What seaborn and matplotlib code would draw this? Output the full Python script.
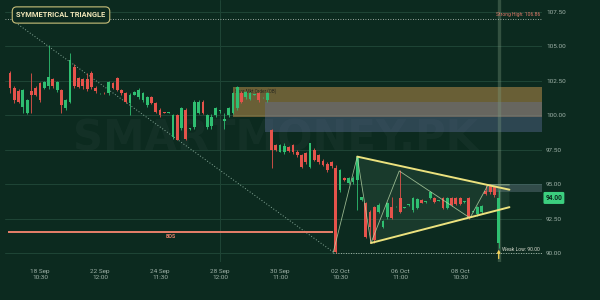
import numpy as np
import pandas as pd
import matplotlib
matplotlib.use("Agg")
import matplotlib.pyplot as plt
import seaborn as sns
from matplotlib.patches import Rectangle, Polygon

# ---------------- data ----------------
opens = [103.1, 102.0, 101.8, 100.6, 100.2, 101.8, 102.0, 102.35, 102.0, 102.1,
         102.6, 101.85, 101.85, 100.5, 101.0, 103.5, 102.7, 102.6, 102.6, 103.1,
         102.0, 101.6, 101.62, 101.6, 102.35, 102.7, 101.85, 101.6, 100.9, 101.5,
         101.3, 101.1, 100.75, 101.3, 100.9, 100.4, 100.2, 100.18, 98.45, 100.0,
         99.1, 100.4, 99.0, 99.15, 100.2, 101.0, 99.15, 99.2, 100.0, 100.3,
         99.6, 100.0, 100.2, 100.5, 101.65, 101.3, 101.2, 101.5, 101.6, 101.3,
         101.1, 98.9, 97.85, 97.35, 97.3, 97.7, 97.85, 97.35, 97.1, 97.25,
         96.25, 97.5, 97.1, 96.7, 96.5, 96.6, 96.2, 94.6, 95.45, 95.1,
         95.15, 95.3, 93.85, 93.6, 93.0, 93.35, 93.0, 91.9, 92.6, 93.35,
         93.4, 94.0, 93.3, 93.5, 93.1, 93.3, 93.85, 93.7, 94.0, 94.0,
         93.8, 94.0, 93.3, 94.0, 94.0, 94.0, 93.7, 94.0, 93.0, 92.8,
         93.0, 94.5, 94.9, 94.8, 90.7]
highs = [103.2, 102.1, 101.9, 101.9, 101.2, 103.1, 102.1, 102.4, 102.5, 105.1,
         102.7, 102.5, 101.9, 101.2, 104.5, 103.7, 102.8, 102.7, 103.1, 103.2,
         102.1, 101.65, 101.68, 102.5, 102.4, 102.8, 101.9, 101.7, 101.6, 101.75,
         102.0, 101.7, 101.4, 101.4, 101.0, 100.5, 100.25, 100.25, 100.1, 100.1,
         100.6, 100.5, 99.1, 101.1, 101.1, 101.1, 100.1, 100.1, 100.6, 100.4,
         100.2, 100.6, 101.7, 102.1, 101.8, 101.75, 101.7, 101.55, 101.7, 101.35,
         101.7, 99.0, 97.95, 97.95, 98.0, 97.8, 97.9, 97.45, 97.2, 97.3,
         98.0, 97.6, 97.2, 96.8, 96.6, 96.7, 96.4, 96.1, 95.5, 95.5,
         95.6, 97.0, 94.1, 93.7, 93.1, 93.4, 93.6, 92.4, 93.7, 94.05,
         93.45, 96.0, 93.35, 93.55, 94.1, 94.0, 93.9, 93.75, 94.5, 94.1,
         93.85, 94.1, 94.1, 94.1, 94.1, 94.1, 93.75, 94.1, 93.05, 93.4,
         93.5, 94.95, 95.0, 94.9, 94.6]
lows = [101.6, 100.9, 100.9, 100.2, 100.1, 100.2, 101.4, 101.0, 101.9, 101.9,
        102.0, 101.7, 100.2, 100.4, 100.9, 102.0, 102.0, 101.9, 101.8, 101.9,
        101.6, 101.55, 101.55, 101.5, 101.9, 101.8, 101.5, 100.9, 100.0, 101.45,
        101.2, 101.0, 100.6, 100.8, 100.2, 99.9, 100.15, 100.15, 98.3, 98.2,
        98.9, 98.2, 98.9, 99.0, 100.1, 100.1, 99.0, 99.0, 99.9, 100.2,
        99.0, 99.9, 100.1, 100.4, 100.9, 101.2, 101.1, 101.45, 101.0, 101.25,
        101.0, 96.2, 97.4, 97.3, 97.2, 97.3, 97.2, 97.0, 96.2, 96.5,
        96.2, 96.7, 96.5, 96.3, 95.9, 96.2, 90.0, 94.4, 95.2, 95.0,
        95.0, 93.1, 93.8, 91.1, 90.7, 90.7, 92.9, 91.8, 92.5, 92.5,
        93.35, 92.9, 93.25, 93.45, 93.0, 93.2, 93.6, 93.65, 93.9, 93.6,
        93.75, 93.2, 93.2, 93.4, 93.5, 93.5, 93.65, 92.45, 92.95, 92.7,
        92.9, 94.2, 94.3, 94.1, 90.4]
closes = [102.0, 101.1, 101.0, 101.85, 101.1, 101.5, 101.5, 101.1, 102.45, 102.8,
          102.1, 102.45, 100.75, 101.1, 104.0, 102.1, 102.05, 102.1, 101.9, 102.05,
          101.75, 101.62, 101.6, 102.4, 102.0, 101.85, 101.6, 101.0, 101.5, 101.7,
          101.85, 101.6, 101.35, 100.9, 100.25, 100.0, 100.18, 100.2, 100.0, 98.2,
          100.5, 98.25, 99.05, 101.0, 101.0, 100.2, 100.0, 99.9, 100.5, 100.32,
          99.7, 100.5, 101.65, 102.05, 101.0, 101.7, 101.6, 101.52, 101.1, 101.32,
          101.6, 97.5, 97.5, 97.85, 97.8, 97.4, 97.35, 97.1, 96.25, 96.6,
          98.0, 96.75, 96.6, 96.4, 96.0, 96.3, 90.05, 96.0, 95.3, 95.45,
          95.45, 97.0, 94.05, 91.15, 91.9, 90.95, 93.5, 92.3, 93.6, 92.55,
          93.42, 93.0, 93.32, 93.52, 94.0, 93.9, 93.65, 93.72, 94.45, 93.7,
          93.82, 93.3, 94.0, 93.5, 93.55, 93.55, 93.72, 92.6, 93.02, 93.35,
          93.4, 94.3, 94.4, 94.2, 94.0]

tick_pos = [7, 21, 35, 49, 63, 77, 91, 105]
tick_labels = ["18 Sep\n10:30", "22 Sep\n12:00", "24 Sep\n11:30", "28 Sep\n12:00",
               "30 Sep\n11:00", "02 Oct\n10:30", "06 Oct\n11:00", "08 Oct\n10:30"]
y_ticks = [90.0, 92.5, 95.0, 97.5, 100.0, 102.5, 105.0, 107.5]

tri_upper_x = [81.0, 116.5]
tri_upper_y = [97.0, 94.6]
tri_lower_x = [84.2, 116.5]
tri_lower_y = [90.73, 93.33]
zig_x = [75.4, 81.0, 84.2, 90.8, 107.3, 111.5, 116.5]
zig_y = [90.05, 97.0, 90.73, 95.96, 92.55, 94.95, 94.95]
trend_x = [1.87, 75.4]
trend_y = [106.6, 90.07]

bos_level = 91.53
bos_x = [-0.5, 75.4]
strong_high = 107.02
weak_low = 90.0
weak_low_start = 75.4
zone_a = (52.0, 99.9, 102.05)   # start bar, bottom, top
zone_b = (59.5, 98.8, 101.0)
small_zone = (111.3, 94.44, 95.02)
last_price = 94.00

# ---------------- style ----------------
BG = "#0c2a1f"
GREEN = "#2fbf71"
RED = "#e5534b"
TXT = "#9fb2a8"

sns.set_theme(style="dark")
plt.rcParams["font.family"] = ["Roboto", "DejaVu Sans"]

df = pd.DataFrame({"o": opens, "h": highs, "l": lows, "c": closes})
df["x"] = np.arange(len(df))
df["up"] = df["c"] >= df["o"]
df["col"] = np.where(df["up"], GREEN, RED)
df["bot"] = df[["o", "c"]].min(axis=1)
df["hgt"] = (df["c"] - df["o"]).abs().clip(lower=0.05)

fig = plt.figure(figsize=(6, 3), dpi=100, facecolor=BG)
ax = fig.add_axes([5 / 600, 38 / 300, 537 / 600, 262 / 300])
ax.set_facecolor(BG)
xmin, xmax = -1.17, 124.1
ax.set_xlim(xmin, xmax)
ax.set_ylim(89.35, 108.37)

for s in ax.spines.values():
    s.set_visible(False)

# grid
for yv in y_ticks:
    ax.axhline(yv, color="#1f4536", lw=0.7, zorder=0)
ax.axvline(49, color="#1f4536", lw=0.7, zorder=0)

# watermark
ax.text(0.503, 0.47, "SMARTMONEY.PK", transform=ax.transAxes, ha="center", va="center",
        fontsize=30, fontweight="bold", color="white", alpha=0.03,
        family="DejaVu Sans", zorder=0)

# zones
ax.add_patch(Rectangle((zone_a[0], zone_a[1]), xmax - zone_a[0], zone_a[2] - zone_a[1],
                       fc="#dba154", alpha=0.45, lw=0, zorder=1))
ax.add_patch(Rectangle((zone_b[0], zone_b[1]), xmax - zone_b[0], zone_b[2] - zone_b[1],
                       fc="#6474a4", alpha=0.38, lw=0, zorder=1))
ax.add_patch(Rectangle((small_zone[0], small_zone[1]), xmax - small_zone[0],
                       small_zone[2] - small_zone[1], fc="#8b9bb0", alpha=0.3, lw=0, zorder=1))
ax.text(zone_a[0] + 0.4, zone_a[2] - 0.08, "Bear Mkt Order (OB)", fontsize=3.3,
        color="#2a2a20", va="top", ha="left", zorder=2)

# triangle fill
ax.add_patch(Polygon([(tri_upper_x[0], tri_upper_y[0]), (tri_upper_x[1], tri_upper_y[1]),
                      (tri_lower_x[1], tri_lower_y[1]), (tri_lower_x[0], tri_lower_y[0])],
                     closed=True, fc="#7fb08a", alpha=0.12, lw=0, zorder=1))

# current bar vertical
ax.axvline(len(df) - 1, color="#7d9c80", alpha=0.35, lw=2.4, zorder=1)

# trend dotted
ax.plot(trend_x, trend_y, color="#86a898", lw=0.7, ls=(0, (1, 2)), zorder=2)

# strong high / weak low
ax.plot([xmin, xmax], [strong_high] * 2, color="#c9cfc8", lw=0.6, ls=(0, (1, 2)), zorder=2)
ax.text(xmax - 0.5, strong_high + 0.08, "Strong High: 106.86", fontsize=3.6, color="#e07a6a",
        ha="right", va="bottom", zorder=3)
ax.plot([weak_low_start, xmax], [weak_low] * 2, color="#c9cfc8", lw=0.6, ls=(0, (1, 2)), zorder=2)
ax.text(xmax - 0.5, weak_low + 0.05, "Weak Low: 90.00", fontsize=3.6, color="#d8dccf",
        ha="right", va="bottom", zorder=3)

# BOS
ax.plot(bos_x, [bos_level] * 2, color="#e8806a", lw=1.4, zorder=2, solid_capstyle="butt")
ax.text(sum(bos_x) / 2, bos_level - 0.12, "BOS", fontsize=3.8, color="#e8806a",
        fontweight="bold", ha="center", va="top", zorder=3)

# candles
ax.vlines(df["x"], df["l"], df["h"], colors=df["col"], lw=0.6, zorder=4)
ax.bar(df["x"], df["hgt"], bottom=df["bot"], width=0.65, color=df["col"], lw=0, zorder=4)

# triangle lines and zigzag with seaborn
sns.lineplot(x=zig_x, y=zig_y, ax=ax, color="#b9d7a8", lw=0.6, alpha=0.8, sort=False,
             estimator=None, zorder=5)
sns.lineplot(x=tri_upper_x, y=tri_upper_y, ax=ax, color="#ece27e", lw=1.4, estimator=None,
             zorder=6)
sns.lineplot(x=tri_lower_x, y=tri_lower_y, ax=ax, color="#ece27e", lw=1.4, estimator=None,
             zorder=6)

# arrow under the last bar
ax.annotate("", xy=(len(df) - 1, 90.45), xytext=(len(df) - 1, 89.4),
            arrowprops=dict(arrowstyle="-|>", color="#f2d35a", lw=0.9, mutation_scale=4),
            zorder=7)

# ticks
ax.set_yticks(y_ticks)
ax.set_yticklabels([f"{v:.2f}" for v in y_ticks])
ax.yaxis.tick_right()
ax.tick_params(axis="y", length=0, pad=3, labelsize=4.6, labelcolor=TXT)
ax.set_xticks(tick_pos)
ax.set_xticklabels(tick_labels)
ax.tick_params(axis="x", length=0, pad=5, labelsize=4.6, labelcolor=TXT)
ax.grid(False)
ax.set_xlabel("")
ax.set_ylabel("")

# last price box
ax.annotate(f"{last_price:.2f}", xy=(1.0, last_price), xycoords=("axes fraction", "data"),
            xytext=(2.5, 0), textcoords="offset points", ha="left", va="center",
            fontsize=4.8, color="#0c2a1f", fontweight="bold",
            bbox=dict(boxstyle="round,pad=0.3,rounding_size=0.2", fc="#3ccf7f", ec="none"),
            zorder=8)

# title box
fig.text(61 / 600, 1 - 15 / 300, "SYMMETRICAL TRIANGLE", ha="center", va="center",
         fontsize=5.4, fontweight="bold", color="#efe6b8",
         bbox=dict(boxstyle="round,pad=0.55,rounding_size=0.6", fc=BG, ec="#c9c07a", lw=0.8))

fig.savefig("out.png", dpi=100, facecolor=BG)
